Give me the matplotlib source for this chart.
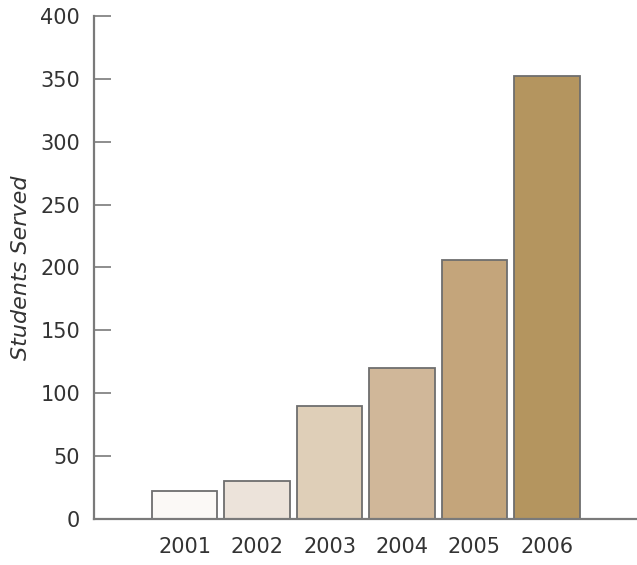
import matplotlib
matplotlib.use("Agg")
import matplotlib.pyplot as plt

years = ["2001", "2002", "2003", "2004", "2005", "2006"]
students = [22, 30, 90, 120, 206, 352]
bar_colors = ["#fbf9f6", "#ece3da", "#dfcfb8", "#d0b799", "#c4a57b", "#b4955f"]
y_ticks = [0, 50, 100, 150, 200, 250, 300, 350, 400]

plt.rcParams["font.family"] = ["DejaVu Sans"]

fig = plt.figure(figsize=(6.37, 5.65), dpi=100)
ax = fig.add_axes([0.1476, 0.0814, 0.852, 0.8903])

positions = list(range(len(years)))
ax.bar(positions, students, width=0.9, color=bar_colors,
       edgecolor="#6e6e6e", linewidth=1.3, zorder=2)

ax.set_xlim(-1.25, 6.24)
ax.set_ylim(0, 400)
ax.set_yticks(y_ticks)
ax.set_xticks(positions)
ax.set_xticklabels(years)

for side in ("top", "right"):
    ax.spines[side].set_visible(False)
for side in ("left", "bottom"):
    ax.spines[side].set_color("#7a7a7a")
    ax.spines[side].set_linewidth(1.6)

ax.tick_params(axis="y", direction="in", length=12, width=1.2, color="#7a7a7a",
               labelsize=15, labelcolor="#333333", pad=10)
ax.tick_params(axis="x", length=0, labelsize=15, labelcolor="#333333", pad=13)

ax.set_ylabel("Students Served", fontsize=16, fontstyle="italic", color="#333333",
              labelpad=7)

fig.savefig("out.png", dpi=100)
